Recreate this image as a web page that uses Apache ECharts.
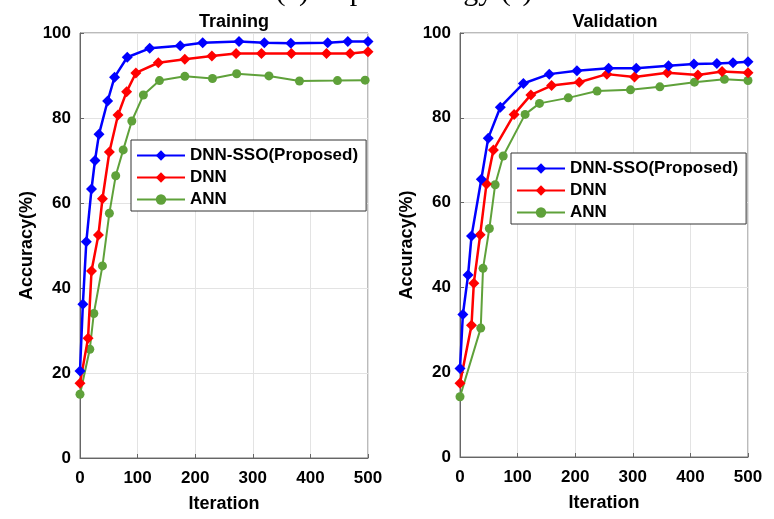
<!DOCTYPE html>
<html>
<head>
<meta charset="utf-8">
<script src="https://cdn.jsdelivr.net/npm/echarts@6/dist/echarts.min.js"></script>
<style>
  html, body { margin: 0; padding: 0; background: #fff; }
  #box { width: 774px; height: 519px; }
</style>
</head>
<body>
<div id="box"></div>
<script>
// series names
const names = ["DNN-SSO(Proposed)", "DNN", "ANN"];

// Training: [iteration, accuracy]
const trainSSO = [[0, 20.5], [5, 36.2], [11, 50.9], [20, 63.3], [26, 70], [33, 76.2], [48, 84], [60, 89.6], [82, 94.3], [121, 96.4], [174, 97], [213, 97.7], [276, 98], [320, 97.7], [366, 97.6], [430, 97.7], [465, 98], [500, 98]];
const trainDNN = [[0, 17.6], [14, 28.2], [20, 44], [32, 52.5], [39, 61], [51, 72], [66, 80.7], [81, 86.2], [97, 90.6], [136, 93], [182, 93.8], [229, 94.6], [271, 95.2], [315, 95.2], [367, 95.2], [428, 95.2], [469, 95.2], [500, 95.6]];
const trainANN = [[0, 15], [17, 25.6], [24, 34], [39, 45.2], [51, 57.6], [62, 66.4], [75, 72.5], [90, 79.3], [110, 85.4], [138, 88.8], [182, 89.8], [230, 89.3], [272, 90.4], [328, 89.9], [381, 88.7], [447, 88.8], [495, 88.9]];

// Validation: [iteration, accuracy]
const valSSO = [[0, 20.9], [5, 33.6], [14, 42.9], [20, 52.1], [37, 65.5], [49, 75.2], [70, 82.5], [110, 88.1], [155, 90.3], [203, 91.1], [258, 91.7], [306, 91.7], [362, 92.3], [406, 92.7], [446, 92.8], [474, 93], [500, 93.2]];
const valDNN = [[0, 17.4], [20, 31.1], [24, 41], [35, 52.4], [46, 64.4], [58, 72.4], [94, 80.8], [123, 85.4], [159, 87.6], [207, 88.4], [255, 90.3], [303, 89.6], [360, 90.6], [413, 90.1], [455, 90.9], [500, 90.6]];
const valANN = [[0, 14.2], [36, 30.4], [40, 44.5], [51, 53.9], [61, 64.2], [75, 71], [113, 80.8], [138, 83.4], [188, 84.7], [238, 86.3], [296, 86.6], [347, 87.3], [407, 88.4], [459, 89.1], [500, 88.8]];

const colors = ["#0000ff", "#ff0000", "#5fa13a"];
const font = "Liberation Sans, Arial, sans-serif";

function xAx(gi) {
  return {
    type: "value", gridIndex: gi, min: 0, max: 500, interval: 100,
    name: "Iteration", nameLocation: "middle", nameGap: 37,
    nameTextStyle: { fontSize: 18, fontWeight: "bold", color: "#000", fontFamily: font },
    axisLine: { lineStyle: { color: "#666" } },
    axisTick: { inside: true, length: 4, lineStyle: { color: "#666" } },
    axisLabel: { fontSize: 17, fontWeight: "bold", color: "#000", fontFamily: font, margin: 12 },
    splitLine: { lineStyle: { color: "#e3e3e3" } }
  };
}
function yAx(gi) {
  return {
    type: "value", gridIndex: gi, min: 0, max: 100, interval: 20,
    name: "Accuracy(%)", nameLocation: "middle", nameGap: 44,
    nameTextStyle: { fontSize: 18, fontWeight: "bold", color: "#000", fontFamily: font },
    axisLine: { show: true, lineStyle: { color: "#666" } },
    axisTick: { show: true, inside: true, length: 4, lineStyle: { color: "#666" } },
    axisLabel: { fontSize: 17, fontWeight: "bold", color: "#000", fontFamily: font, margin: 9 },
    splitLine: { lineStyle: { color: "#e3e3e3" } }
  };
}
function line(name, data, gi, idx) {
  const sym = idx === 2 ? "circle" : "diamond";
  return {
    name: name, type: "line", xAxisIndex: gi, yAxisIndex: gi, data: data,
    symbol: sym, symbolSize: idx === 2 ? 9 : 11,
    color: colors[idx],
    lineStyle: { width: idx === 2 ? 2 : 2.5, color: colors[idx] },
    itemStyle: { color: colors[idx] },
    animation: false, z: 5 - idx
  };
}
function legendAt(left, top) {
  return {
    data: names, orient: "vertical", left: left, top: top,
    itemWidth: 48, itemHeight: 13, itemGap: 5,
    borderColor: "#333", borderWidth: 1, padding: [7, 8, 3, 5],
    backgroundColor: "#fff",
    textStyle: { fontSize: 17, fontWeight: "bold", color: "#000", fontFamily: font }
  };
}

var myChart = echarts.init(document.getElementById("box"));
myChart.setOption({
  animation: false,
  title: [
    { text: "Training", left: 229, top: 8, textAlign: "center", textStyle: { fontSize: 18, fontWeight: "bold", color: "#000", fontFamily: font } },
    { text: "Validation", left: 610, top: 8, textAlign: "center", textStyle: { fontSize: 18, fontWeight: "bold", color: "#000", fontFamily: font } }
  ],
  graphic: [{
    type: "text", x: 404, y: -23,
    style: { text: "(c) Impact Energy (J)", align: "center", fontSize: 30, fontFamily: "Liberation Serif, Times New Roman, serif", fill: "#000" }
  }],
  grid: [
    { left: 80, top: 33, width: 288, height: 425, show: true, borderColor: "#777", borderWidth: 1, backgroundColor: "#fff" },
    { left: 460, top: 33, width: 288, height: 424, show: true, borderColor: "#777", borderWidth: 1, backgroundColor: "#fff" }
  ],
  xAxis: [xAx(0), xAx(1)],
  yAxis: [yAx(0), yAx(1)],
  legend: [legendAt(131, 140), legendAt(511, 153)],
  series: [
    line(names[0], trainSSO, 0, 0),
    line(names[1], trainDNN, 0, 1),
    line(names[2], trainANN, 0, 2),
    line(names[0], valSSO, 1, 0),
    line(names[1], valDNN, 1, 1),
    line(names[2], valANN, 1, 2)
  ]
});
</script>
</body>
</html>
